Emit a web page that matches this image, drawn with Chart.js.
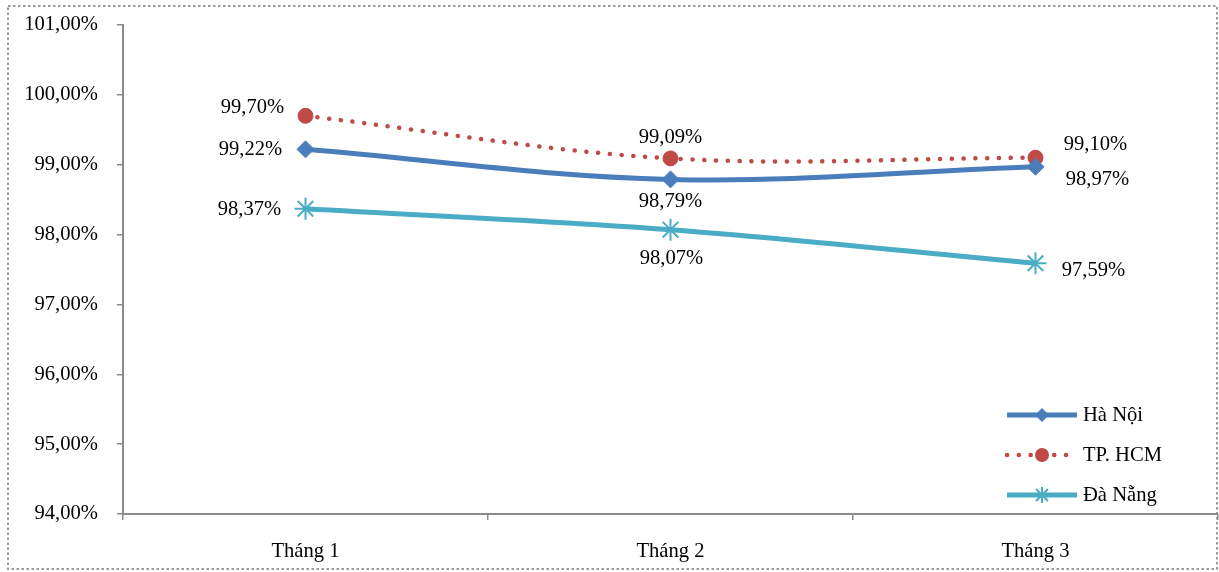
<!DOCTYPE html>
<html>
<head>
<meta charset="utf-8">
<script src="https://cdn.jsdelivr.net/npm/chart.js@4.4.1/dist/chart.umd.min.js"></script>
<style>
  html, body { margin: 0; padding: 0; background: #fff; }
  #wrap { position: relative; width: 1219px; height: 572px; }
</style>
</head>
<body>
<div id="wrap"><canvas id="c" width="1219" height="572"></canvas></div>
<script>
// Monthly rates by city (percent)
const categories = ['Tháng 1', 'Tháng 2', 'Tháng 3'];
const haNoi = [99.22, 98.79, 98.97];
const tpHCM = [99.70, 99.09, 99.10];
const daNang = [98.37, 98.07, 97.59];
const seriesNames = ['Hà Nội', 'TP. HCM', 'Đà Nẵng'];
const yTicks = [94, 95, 96, 97, 98, 99, 100, 101];

// Label offsets (dx, dy) from each point, per series
const labelOffsets = [
  [[-55, 0], [0, 22], [62, 13]],
  [[-53, -8], [0, -21], [60, -13]],
  [[-56, 1], [1, 29], [58, 7]]
];

const FONT = '"Liberation Serif", "Times New Roman", serif';
const FONT_SIZE = 20.6;
const fmt = v => v.toFixed(2).replace('.', ',') + '%';

const colors = ['#4A7EBB', '#BE4B48', '#4BACC6'];

const frame = {
  id: 'frame',
  beforeDraw(chart) {
    const ctx = chart.ctx;
    ctx.save();
    ctx.strokeStyle = '#9a9a9a';
    ctx.lineWidth = 2;
    ctx.setLineDash([2.5, 2.5]);
    ctx.strokeRect(8, 6, 1209, 563);
    ctx.restore();
  }
};

const valueLabels = {
  id: 'valueLabels',
  afterDatasetsDraw(chart) {
    const ctx = chart.ctx;
    ctx.save();
    ctx.font = FONT_SIZE + 'px ' + FONT;
    ctx.fillStyle = '#000';
    ctx.textAlign = 'center';
    ctx.textBaseline = 'middle';
    chart.data.datasets.forEach((ds, di) => {
      const meta = chart.getDatasetMeta(di);
      meta.data.forEach((pt, i) => {
        const off = labelOffsets[di][i];
        ctx.fillText(fmt(ds.data[i]), pt.x + off[0], pt.y + off[1]);
      });
    });
    ctx.restore();
  }
};

function drawMarker(ctx, style, x, y, r, color) {
  ctx.save();
  ctx.fillStyle = color;
  ctx.strokeStyle = color;
  if (style === 'rectRot') {
    ctx.beginPath();
    ctx.moveTo(x, y - r); ctx.lineTo(x + r, y); ctx.lineTo(x, y + r); ctx.lineTo(x - r, y);
    ctx.closePath(); ctx.fill();
  } else if (style === 'circle') {
    ctx.beginPath(); ctx.arc(x, y, r, 0, Math.PI * 2); ctx.fill();
  } else {
    ctx.lineWidth = 2;
    ctx.beginPath();
    ctx.moveTo(x, y - r); ctx.lineTo(x, y + r);
    const d = r * 0.75;
    ctx.moveTo(x - d, y - d); ctx.lineTo(x + d, y + d);
    ctx.moveTo(x - d, y + d); ctx.lineTo(x + d, y - d);
    ctx.stroke();
  }
  ctx.restore();
}

const insideLegend = {
  id: 'insideLegend',
  afterDraw(chart) {
    const ctx = chart.ctx;
    const x0 = 1007, x1 = 1077, ys = [415, 455, 495];
    chart.data.datasets.forEach((ds, di) => {
      const y = ys[di];
      ctx.save();
      ctx.strokeStyle = ds.borderColor;
      ctx.lineWidth = ds.borderWidth;
      ctx.lineCap = ds.borderCapStyle || 'butt';
      ctx.setLineDash(ds.borderDash || []);
      ctx.beginPath(); ctx.moveTo(x0, y); ctx.lineTo(x1, y); ctx.stroke();
      ctx.restore();
      drawMarker(ctx, ds.pointStyle, (x0 + x1) / 2, y, ds.legendMarker, ds.pointBackgroundColor);
      ctx.save();
      ctx.font = FONT_SIZE + 'px ' + FONT;
      ctx.fillStyle = '#000';
      ctx.textBaseline = 'middle';
      ctx.fillText(ds.label, 1083, y + 1);
      ctx.restore();
    });
  }
};

new Chart(document.getElementById('c'), {
  type: 'line',
  data: {
    labels: categories,
    datasets: [
      {
        label: seriesNames[0], data: haNoi,
        borderColor: colors[0], backgroundColor: colors[0],
        pointBackgroundColor: colors[0], pointBorderColor: colors[0],
        borderWidth: 5, pointStyle: 'rectRot', pointRadius: 8.5, pointBorderWidth: 1,
        tension: 0.35, legendMarker: 7
      },
      {
        label: seriesNames[1], data: tpHCM,
        borderColor: colors[1], backgroundColor: colors[1],
        pointBackgroundColor: colors[1], pointBorderColor: colors[1],
        borderWidth: 4.5, borderDash: [0.1, 11.7], borderCapStyle: 'round',
        pointStyle: 'circle', pointRadius: 7.5, pointBorderWidth: 1,
        tension: 0.35, legendMarker: 7
      },
      {
        label: seriesNames[2], data: daNang,
        borderColor: colors[2], backgroundColor: colors[2],
        pointBackgroundColor: colors[2], pointBorderColor: colors[2],
        borderWidth: 5, pointStyle: 'star', pointRadius: 11, pointBorderWidth: 2,
        tension: 0.35, legendMarker: 8
      }
    ]
  },
  options: {
    responsive: false,
    animation: false,
    events: [],
    layout: { autoPadding: false, padding: { left: 0, right: 1, top: 25, bottom: 0 } },
    plugins: { legend: { display: false }, tooltip: { enabled: false } },
    scales: {
      x: {
        offset: true,
        grid: { offset: true, drawOnChartArea: false, drawTicks: true, tickLength: 6, color: '#8a8a8a', lineWidth: 1.5 },
        border: { color: '#8a8a8a', width: 2 },
        ticks: { color: '#000', font: { family: FONT, size: FONT_SIZE }, padding: 19, maxRotation: 0 },
        afterFit(s) { s.height = 58; s.paddingLeft = 0; s.paddingRight = 0; }
      },
      y: {
        min: 94, max: 101,
        afterBuildTicks(s) { s.ticks = yTicks.map(v => ({ value: v })); },
        grid: { drawOnChartArea: false, drawTicks: true, tickLength: 6, color: '#8a8a8a', lineWidth: 1.5 },
        border: { color: '#8a8a8a', width: 2 },
        ticks: { color: '#000', font: { family: FONT, size: FONT_SIZE }, padding: 19, callback: v => fmt(v) },
        afterFit(s) { s.width = 123; s.paddingTop = 0; s.paddingBottom = 0; }
      }
    }
  },
  plugins: [frame, valueLabels, insideLegend]
});
</script>
</body>
</html>
